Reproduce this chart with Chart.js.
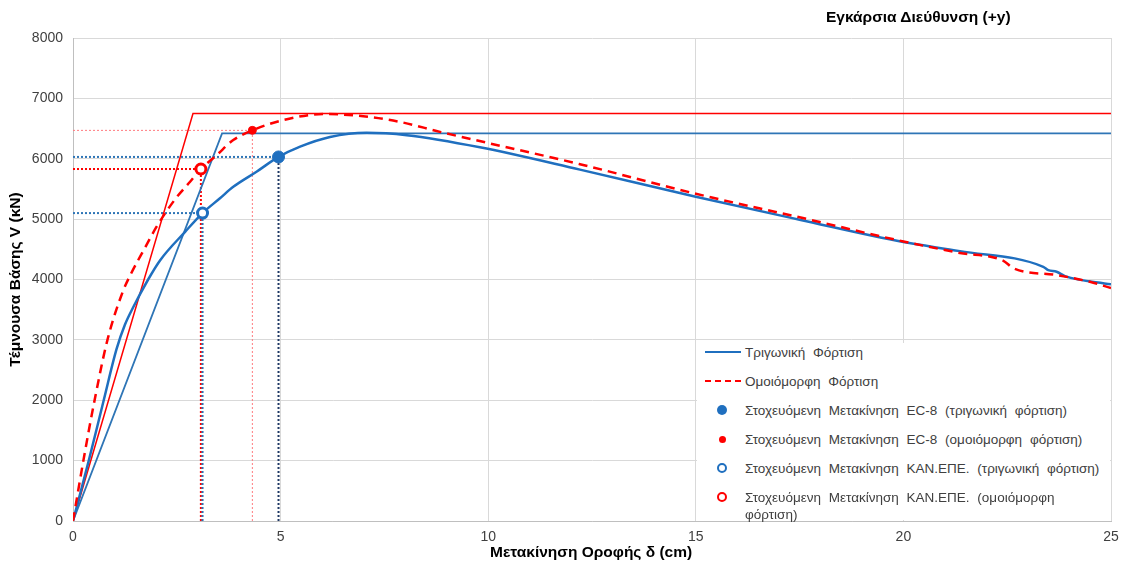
<!DOCTYPE html>
<html>
<head>
<meta charset="utf-8">
<script src="https://cdn.jsdelivr.net/npm/chart.js@4"></script>
<style>
  html,body{margin:0;padding:0;background:#fff;}
  #wrap{position:relative;width:1124px;height:565px;font-family:"Liberation Sans",Arial,sans-serif;}
  #chart{position:absolute;left:0;top:0;}
  .title{position:absolute;font-weight:bold;font-size:15.5px;color:#000;white-space:nowrap;}
  #legend{position:absolute;left:697px;top:343px;width:413px;height:177px;background:#fff;}
  .row{position:absolute;left:0;height:18px;line-height:18px;font-size:13.5px;color:#404040;white-space:nowrap;word-spacing:4px;}
  .sym{position:absolute;left:8px;top:0;width:36px;height:18px;}
  .txt{position:absolute;left:48px;top:0;}
  .ln{position:absolute;left:0;top:8px;width:36px;height:0;}
  .dot{position:absolute;border-radius:50%;box-sizing:border-box;}
</style>
</head>
<body>
<div id="wrap">
  <canvas id="chart" width="1124" height="565"></canvas>
  <div class="title" style="left:826px;top:8px;">Εγκάρσια Διεύθυνση (+y)</div>
  <div class="title" style="left:490px;top:543px;">Μετακίνηση Οροφής δ (cm)</div>
  <div id="legend"></div>
</div>
<script>
// καμπύλη ικανότητας - τριγωνική φόρτιση
const triX = [0, 0.38, 0.74, 1.05, 1.25, 1.45, 1.81, 2.1, 2.7, 3.12, 3.54, 3.86, 4.42, 4.95, 5.47, 6.19, 7.07, 8.04, 9.8, 12.21, 15, 17.5, 20, 21.36, 23.37, 23.49, 23.69, 23.89, 25];
const triY = [0, 1000, 2000, 2850, 3250, 3540, 4000, 4320, 4790, 5100, 5345, 5535, 5785, 6030, 6200, 6360, 6430, 6390, 6190, 5820, 5370, 4990, 4620, 4470, 4210, 4155, 4128, 4056, 3920];

// καμπύλη ικανότητας - ομοιόμορφη φόρτιση
const uniX = [0, 0.25, 0.52, 0.83, 1.2, 1.4, 1.73, 2.01, 2.46, 2.82, 3.08, 3.46, 3.86, 4.32, 5.06, 6.03, 6.99, 7.88, 8.84, 10, 12.21, 15, 17.5, 20, 21.36, 22.41, 22.65, 23.69, 24.49, 25];
const uniY = [0, 1000, 2000, 3000, 3800, 4100, 4520, 4870, 5330, 5620, 5830, 6060, 6310, 6470, 6640, 6740, 6705, 6610, 6445, 6260, 5910, 5420, 5030, 4630, 4440, 4310, 4185, 4073, 3962, 3860];

// διγραμμικές προσεγγίσεις
const biTriX = [0, 3.59, 25];
const biTriY = [0, 6420, 6420];
const biUniX = [0, 2.89, 25];
const biUniY = [0, 6750, 6750];

// στοχευόμενες μετακινήσεις [δ, V]
const ec8Tri = [4.95, 6030];
const ec8Uni = [4.32, 6470];
const kanTri = [3.12, 5100];
const kanUni = [3.08, 5830];

const xTicks = [0, 5, 10, 15, 20, 25];
const yTicks = [0, 1000, 2000, 3000, 4000, 5000, 6000, 7000, 8000];

const BLUE = '#1f6fbf', BLUE2 = '#2e75b6', NAVY = '#1f3864', RED = '#ff0000', PINK = '#ff7c80';

const pts = (xs, ys) => xs.map((x, i) => ({x, y: ys[i]}));
const hGuide = p => [{x: 0, y: p[1]}, {x: p[0], y: p[1]}];
const vGuide = p => [{x: p[0], y: 0}, {x: p[0], y: p[1]}];

function guide(data, color, w, order){
  return {data, borderColor: color, borderWidth: w, borderDash: [2, 2], pointRadius: 0, order};
}
function marker(p, r, fill, stroke, bw){
  return {data: [{x: p[0], y: p[1]}], showLine: false, pointRadius: r, pointBackgroundColor: fill,
    pointBorderColor: stroke, pointBorderWidth: bw, order: 0};
}

new Chart(document.getElementById('chart'), {
  type: 'line',
  data: {
    datasets: [
      marker(ec8Tri, 6, BLUE, BLUE, 1),
      marker(ec8Uni, 4, RED, RED, 1),
      marker(kanTri, 5, '#fff', BLUE, 3),
      marker(kanUni, 5, '#fff', RED, 3),
      {data: pts(triX, triY), borderColor: BLUE, borderWidth: 2.5, pointRadius: 0, cubicInterpolationMode: 'monotone', order: 2},
      {data: pts(uniX, uniY), borderColor: RED, borderWidth: 2.5, borderDash: [9, 6], pointRadius: 0, cubicInterpolationMode: 'monotone', order: 1},
      {data: pts(biTriX, biTriY), borderColor: BLUE2, borderWidth: 1.8, pointRadius: 0, order: 3},
      {data: pts(biUniX, biUniY), borderColor: RED, borderWidth: 1.5, pointRadius: 0, order: 3},
      guide(hGuide(ec8Tri), BLUE2, 2, 5),
      guide(vGuide(ec8Tri), NAVY, 2, 5),
      guide(hGuide(ec8Uni), PINK, 1, 5),
      guide(vGuide(ec8Uni), PINK, 1, 5),
      guide(hGuide(kanTri), BLUE2, 2, 5),
      guide(vGuide(kanTri), BLUE2, 2, 5),
      guide(hGuide(kanUni), RED, 2, 5),
      guide(vGuide(kanUni), RED, 2, 5)
    ]
  },
  options: {
    responsive: false,
    animation: false,
    layout: {padding: {top: 38, right: 13, left: 0, bottom: 0}},
    plugins: {legend: {display: false}, tooltip: {enabled: false}},
    scales: {
      x: {
        type: 'linear', min: 0, max: 25,
        afterFit: s => { s.height = 44; s.paddingRight = 0; s.paddingLeft = 0; },
        afterBuildTicks: s => { s.ticks = xTicks.map(v => ({value: v})); },
        grid: {color: '#d9d9d9', drawTicks: false},
        border: {color: '#bfbfbf'},
        ticks: {padding: 8, color: '#404040', font: {family: 'Liberation Sans', size: 14}, callback: v => String(v)}
      },
      y: {
        min: 0, max: 8000,
        afterFit: s => { s.width = 73; s.paddingTop = 0; s.paddingBottom = 0; },
        afterBuildTicks: s => { s.ticks = yTicks.map(v => ({value: v})); },
        grid: {color: '#d9d9d9', drawTicks: false},
        border: {color: '#bfbfbf'},
        ticks: {padding: 10, color: '#404040', font: {family: 'Liberation Sans', size: 14}, callback: v => String(v)},
        title: {display: true, text: 'Τέμνουσα Βάσης V (κΝ)', color: '#000', padding: {top: 6, bottom: 0},
          font: {family: 'Liberation Sans', size: 15.5, weight: 'bold'}}
      }
    }
  }
});

// υπόμνημα
const legendItems = [
  {label: 'Τριγωνική Φόρτιση', sym: `<div class="ln" style="border-top:2px solid ${BLUE}"></div>`},
  {label: 'Ομοιόμορφη Φόρτιση', sym: `<div class="ln" style="border-top:2px dashed ${RED}"></div>`},
  {label: 'Στοχευόμενη Μετακίνηση EC-8 (τριγωνική φόρτιση)', sym: `<div class="dot" style="left:12px;top:4px;width:10px;height:10px;background:${BLUE}"></div>`},
  {label: 'Στοχευόμενη Μετακίνηση EC-8 (ομοιόμορφη φόρτιση)', sym: `<div class="dot" style="left:14px;top:6px;width:7px;height:7px;background:${RED}"></div>`},
  {label: 'Στοχευόμενη Μετακίνηση ΚΑΝ.ΕΠΕ. (τριγωνική φόρτιση)', sym: `<div class="dot" style="left:12px;top:4px;width:10px;height:10px;border:2.5px solid ${BLUE}"></div>`},
  {label: 'Στοχευόμενη Μετακίνηση ΚΑΝ.ΕΠΕ. (ομοιόμορφη<br>φόρτιση)', sym: `<div class="dot" style="left:12px;top:4px;width:10px;height:10px;border:2.5px solid ${RED}"></div>`}
];
const lg = document.getElementById('legend');
legendItems.forEach((it, i) => {
  const row = document.createElement('div');
  row.className = 'row';
  row.style.top = (i * 29) + 'px';
  row.innerHTML = `<div class="sym">${it.sym}</div><div class="txt" style="line-height:17px;top:1px">${it.label}</div>`;
  lg.appendChild(row);
});
</script>
</body>
</html>
